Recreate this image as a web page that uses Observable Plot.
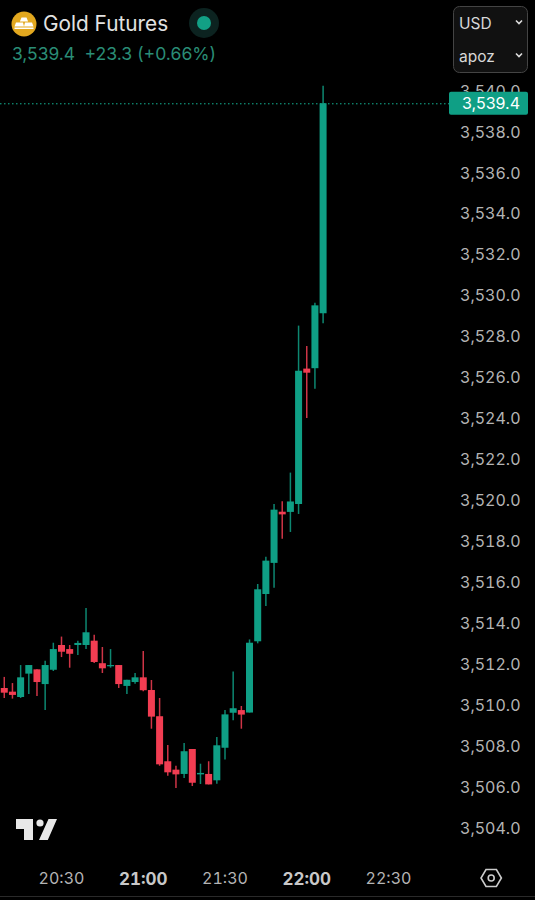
<!DOCTYPE html>
<html><head><meta charset="utf-8">
<script src="https://cdn.jsdelivr.net/npm/d3@7"></script>
<script src="https://cdn.jsdelivr.net/npm/@observablehq/plot@0.6"></script>
<style>
html,body{margin:0;padding:0;background:#000;width:535px;height:900px;overflow:hidden;font-family:Inter,"Noto Sans",sans-serif}
#wrap{position:relative;width:535px;height:900px}
#wrap>svg.chrome{position:absolute;left:0;top:0}
.t{position:absolute;white-space:nowrap}
</style></head><body>
<div id="wrap"></div>
<script>
const firstBar = "2025-01-01T20:09Z";
const barMinutes = 3;
const opens = [3510.84,3510.66,3510.40,3511.54,3511.75,3511.03,3511.73,3512.94,3512.74,3512.94,3512.94,3513.15,3512.05,3511.90,3511.96,3510.94,3511.13,3511.36,3510.74,3509.46,3507.26,3506.85,3506.64,3507.86,3506.62,3506.64,3506.33,3507.92,3509.63,3509.76,3509.64,3513.12,3515.43,3516.95,3519.45,3519.44,3519.83,3526.44,3526.46,3529.14];
const closes = [3510.61,3510.50,3511.36,3511.96,3511.13,3511.96,3512.74,3512.61,3512.51,3513.04,3513.56,3512.11,3511.80,3511.96,3511.03,3511.24,3511.36,3510.73,3509.44,3507.11,3506.72,3506.62,3507.75,3506.21,3506.69,3506.13,3508.04,3509.55,3509.85,3509.54,3513.05,3515.66,3517.06,3519.55,3519.32,3519.95,3526.34,3526.24,3529.53,3539.4];
const highs = [3511.38,3511.08,3511.96,3511.96,3511.75,3512.17,3513.05,3513.35,3512.94,3513.15,3514.75,3513.44,3512.84,3512.74,3511.96,3511.24,3511.57,3512.65,3511.23,3510.35,3508.05,3507.04,3508.15,3507.86,3507.14,3507.26,3508.45,3509.76,3511.64,3509.96,3513.21,3515.92,3517.25,3519.83,3519.96,3521.36,3528.54,3527.55,3529.66,3540.26];
const lows = [3510.35,3510.32,3510.35,3510.55,3510.45,3509.76,3511.67,3512.35,3511.83,3512.45,3512.74,3512.06,3511.57,3511.83,3510.84,3510.55,3511.05,3510.68,3508.85,3507.04,3506.55,3505.95,3506.44,3506.05,3506.15,3506.13,3506.16,3507.34,3509.26,3508.85,3509.64,3513.02,3514.85,3515.74,3518.13,3518.46,3519.34,3524.03,3525.46,3528.66];
const lastPrice = 3539.4;
const priceTicks = [3504,3506,3508,3510,3512,3514,3516,3518,3520,3522,3524,3526,3528,3530,3532,3534,3536,3538,3540];
const timeTicks = ["2025-01-01T20:30Z","2025-01-01T21:30Z","2025-01-01T22:30Z"].map(d=>new Date(d));
const hourTicks = ["2025-01-01T21:00Z","2025-01-01T22:00Z"].map(d=>new Date(d));

const up="#0f9f85", down="#f23d52", axisInk="#b4b4b4";
const bars = opens.map((o,i)=>({t:d3.utcMinute.offset(new Date(firstBar),i*barMinutes),o,c:closes[i],h:highs[i],l:lows[i]}));
const fmt = d3.format(",.1f"), hm = d3.utcFormat("%H:%M");
const colour = d=>d.c>=d.o?up:down;

const badge = (index,{x,y},values,dims)=>{
  const g=d3.create("svg:g"), py=y(lastPrice);
  g.append("rect").attr("x",449).attr("y",py-11.5).attr("width",79).attr("height",23).attr("rx",2).attr("fill",up);
  g.append("text").attr("x",dims.width-dims.marginRight).attr("y",py).attr("dy","0.36em").attr("text-anchor","end").attr("fill","#fff").text(fmt(lastPrice));
  return g.node();
};

const chart = Plot.plot({
  width:535,height:900,
  marginTop:0,marginBottom:28,marginLeft:0,marginRight:15,
  style:{background:"transparent",fontFamily:"Inter,sans-serif",fontSize:"16px",color:axisInk},
  x:{type:"utc",domain:[new Date("2025-01-01T20:30Z"),new Date("2025-01-01T22:30Z")],range:[61,388]},
  y:{domain:[3504,3540],range:[828,91]},
  marks:[
    Plot.axisY({anchor:"right",ticks:priceTicks,tickFormat:fmt,tickSize:0,tickPadding:0,textAnchor:"end",label:null,fill:axisInk}),
    Plot.axisX({ticks:timeTicks,tickFormat:hm,tickSize:0,tickPadding:0,label:null,fill:axisInk}),
    Plot.axisX({ticks:hourTicks,tickFormat:hm,tickSize:0,tickPadding:0,label:null,fill:"#c8c8c8",fontWeight:700,fontSize:17}),
    Plot.ruleY([lastPrice],{stroke:"#14b394",strokeWidth:1,strokeDasharray:"1.5 2.5"}),
    Plot.ruleX(bars,{x:"t",y1:"l",y2:"h",stroke:colour,strokeWidth:1.5,strokeOpacity:0.85}),
    Plot.ruleX(bars,{x:"t",y1:"o",y2:"c",stroke:colour,strokeWidth:7}),
    badge
  ]
});
const wrap=document.getElementById("wrap");
wrap.appendChild(chart);
chart.style.position="absolute";chart.style.left=0;chart.style.top=0;

const chrome=`<svg class="chrome" width="535" height="900" viewBox="0 0 535 900">
<circle cx="24" cy="24" r="12.5" fill="#e3a81f"/>
<path d="M21.5 17.5h5l1.6 4h-8.2zM16 22.5h7l1 4H14.5zM25 22.5h7l1.5 4H24z M14.5 27.5h19v1.5h-19z" fill="#fff"/>
<circle cx="204" cy="23" r="15" fill="#0c2320"/><circle cx="204" cy="23" r="7" fill="#12a085"/>
<rect x="453.5" y="6.5" width="74" height="66" rx="6" fill="#111" stroke="#444"/>
<path d="M516 20.5l3 3 3-3M516 53.5l3 3 3-3" fill="none" stroke="#ddd" stroke-width="1.6"/>
<path d="M16 819H33V840H24V829H16Z M48.5 819H57L47.8 840H39Z" fill="#e8e8e8"/><circle cx="40" cy="823" r="3.6" fill="#e8e8e8"/>
<path d="M486 869.5h10.4l5 8.5-5 8.5H486l-5-8.5z" fill="none" stroke="#ccc" stroke-width="1.6"/><circle cx="491.2" cy="878" r="3" fill="none" stroke="#ccc" stroke-width="1.6"/>
<line x1="0" x2="535" y1="896.5" y2="896.5" stroke="#2a2a2a"/>
</svg>`;
wrap.insertAdjacentHTML("beforeend",chrome);
const label=(s,x,y,size,col)=>{const d=document.createElement("div");d.className="t";d.textContent=s;d.style.cssText=`left:${x}px;top:${y}px;font-size:${size}px;color:${col};line-height:1`;wrap.appendChild(d);};
label("Gold Futures",43,14,20.8,"#e2e2e2");
label("3,539.4",12,45,17.4,"#2a8d76");
label("+23.3 (+0.66%)",84.5,45,17.6,"#2a8d76");
label("USD",459,15.5,15.5,"#d8d8d8");
label("apoz",459,48.5,15.5,"#d8d8d8");
</script></body></html>
